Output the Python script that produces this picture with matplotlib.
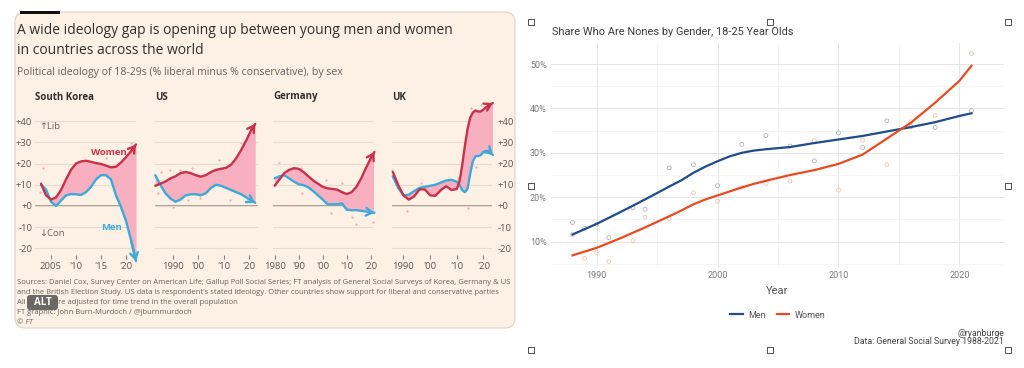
import numpy as np
import matplotlib
matplotlib.use("Agg")
import matplotlib.pyplot as plt
from matplotlib.patches import FancyBboxPatch, Rectangle
from matplotlib.transforms import IdentityTransform
from matplotlib.lines import Line2D

W, H = 1024, 368

# ---------------- FT chart: % liberal minus % conservative, 18-29s ----------------
kr_years = [2003, 2004, 2005, 2006, 2007, 2008, 2009, 2010, 2011, 2012, 2013,
            2014, 2015, 2016, 2017, 2018, 2019, 2020, 2021, 2022]
kr_women = [10.5, 5, 3, 4, 7.5, 12.5, 17, 20, 21, 21.3, 20.8,
            20.2, 19.8, 19, 18.2, 18.5, 20.5, 23, 25.8, 29]
kr_men = [10, 7.8, 2, 0, 2.5, 5, 5.6, 5.5, 5.2, 6.5, 9,
          12.5, 14.5, 14.5, 12.5, 5, -0.5, -7, -16, -26]

us_years = [1983, 1985, 1987, 1989, 1991, 1993, 1995, 1997, 1999, 2001, 2003,
            2005, 2007, 2009, 2011, 2013, 2015, 2017, 2019, 2021, 2022.5]
us_women = [9.5, 10.5, 11.5, 13, 14, 15.5, 16, 15.5, 14.5, 13.8, 14.5,
            16, 17, 17.5, 18, 19.5, 22.5, 26.5, 31, 36, 38.7]
us_men = [14.5, 10, 6, 3.5, 2, 3, 5, 5.5, 5.5, 5, 6,
          8.5, 10, 9.5, 8.5, 7.5, 6.5, 5.5, 4, 2.5, 1.5]

de_years = [1980, 1982, 1984, 1986, 1988, 1990, 1992, 1994, 1996, 1998, 2000,
            2002, 2004, 2006, 2008, 2010, 2012, 2014, 2016, 2018, 2020, 2021.5]
de_women = [9.5, 12.5, 15.5, 17, 17.8, 17.5, 16, 14, 12, 10.5, 9,
            8.3, 8, 7.7, 6.5, 5.6, 6.5, 9, 13, 18, 22.5, 25.5]
de_men = [13, 14, 14.5, 13, 11.5, 10.2, 9.8, 8.8, 7, 5, 3,
          0.8, 0.8, 0.8, 1.2, -1.8, -2, -2, -2.3, -2.6, -3, -3.2]

uk_years = [1986, 1988, 1990, 1992, 1994, 1996, 1998, 2000, 2002, 2004, 2006, 2008,
            2010, 2011, 2012, 2013, 2014, 2015, 2016, 2017, 2018, 2019, 2020, 2021, 2022, 2023.5]
uk_women = [16, 10, 5, 3, 4.5, 7.8, 7.8, 5, 4.8, 7.5, 9.3, 7.5,
            8, 11.5, 19, 28, 36, 41.5, 44, 45, 44.5, 44.5, 45.5, 46.5, 47.5, 48.5]
uk_men = [14, 8.5, 5, 5.3, 7, 8.5, 9, 9.5, 10, 11, 12, 12.3,
          11.5, 10, 7.5, 6.5, 8, 15, 21, 23.5, 23.5, 24, 25.5, 26, 25.8, 24]

# faint survey dots (year, value)
kr_dots = [(2002.8, 6.7), (2003.4, 17.7), (2007.5, 9.1), (2010, 16.2), (2013.7, 18.5),
           (2015.9, 22.5), (2017.9, 13.8), (2021, 29.6)]
us_dots = [(1985.4, 16.2), (1984.1, 6), (1988.7, 17), (1992.9, 17), (1997.5, 17.8),
           (2004, 11.5), (2008, 21.7), (2011.1, 15.4), (2013.7, 20.1), (2017, 29.6),
           (2018.3, 24.9), (1990, -0.3), (1996, 2.8), (2000.5, 3.6), (2012.4, 2.8), (2020.3, 2)]
de_dots = [(1981.8, 20.1), (1991.1, 17.8), (2001.5, 12.3), (2007.8, 10.7), (2014, 4.4),
           (2017.5, 4.4), (1991.5, 6), (2003.6, -3.5), (2012, -5), (2013.8, -8.5), (2021, -7.4)]
uk_dots = [(1985.6, 17), (1991.3, -2.2), (1996.7, 11), (2019, 47.6), (2015.3, 46),
           (2017.2, 39), (2014.3, -1.1), (2017.2, 18.2), (2010.3, 13)]

y_levels = [40, 30, 20, 10, 0, -10, -20]
y_labels = ['+40', '+30', '+20', '+10', '+0', '-10', '-20']

panels = [
    ("South Korea", kr_years, kr_women, kr_men, kr_dots, (35, 136), (2001.8, 2022.0),
     [2005, 2010, 2015, 2020], ['2005', "'10", "'15", "'20"]),
    ("US", us_years, us_women, us_men, us_dots, (155, 258), (1982.9, 2023.6),
     [1990, 2000, 2010, 2020], ['1990', "'00", "'10", "'20"]),
    ("Germany", de_years, de_women, de_men, de_dots, (273, 373), (1979.3, 2020.9),
     [1980, 1990, 2000, 2010, 2020], ['1980', "'90", "'00", "'10", "'20"]),
    ("UK", uk_years, uk_women, uk_men, uk_dots, (392, 492), (1985.7, 2023.2),
     [1990, 2000, 2010, 2020], ['1990', "'00", "'10", "'20"]),
]

# ---------------- GSS chart: share who are nones, 18-25 ----------------
gss_years = [1988, 1989, 1990, 1991, 1993, 1994, 1996, 1998, 2000, 2002, 2004,
             2006, 2008, 2010, 2012, 2014, 2016, 2018, 2021]
gss_men_pts = [14.3, 13.0, 13.9, 10.9, 17.6, 17.3, 26.6, 27.3, 22.6, 31.9, 33.9,
               31.5, 28.2, 34.5, 31.2, 37.2, 35.9, 35.7, 39.5]
gss_women_pts = [11.6, 6.2, 7.5, 5.5, 10.2, 15.5, 15.2, 21.0, 19.1, 22.2, 23.1,
                 23.6, 32.7, 21.6, 32.8, 27.3, 37.0, 38.4, 52.4]
fit_years = [1988, 1990, 1992, 1994, 1996, 1997, 1998, 1999, 2000, 2001, 2002,
             2003, 2004, 2006, 2008, 2010, 2012, 2014, 2016, 2018, 2020, 2021]
fit_men = [11.6, 14.0, 16.7, 19.5, 22.4, 23.8, 25.5, 26.9, 28.1, 29.2, 30.0,
           30.5, 30.8, 31.3, 32.2, 33.0, 33.8, 34.8, 35.8, 36.9, 38.3, 38.9]
fit_women = [6.9, 8.6, 10.8, 13.2, 15.7, 17.0, 18.4, 19.5, 20.4, 21.3, 22.2,
             23.0, 23.7, 25.0, 26.1, 27.5, 29.6, 33.2, 36.8, 41.3, 46.2, 49.6]

# ---------------- styling ----------------
FT_BG = '#FDF0E4'
RED = '#C9304A'
BLUE = '#3DA9D9'
PINK = '#F8AFC0'
FT_FONT = ['Open Sans', 'DejaVu Sans']
NARROW = ['Roboto', 'DejaVu Sans']
NAVY = '#214C8A'
ORANGE = '#E84B1E'

fig = plt.figure(figsize=(W / 100, H / 100), dpi=100)
fig.patch.set_facecolor('white')


def px_box(x0, y0, x1, y1):
    return [x0 / W, 1 - y1 / H, (x1 - x0) / W, (y1 - y0) / H]


def ftext(x, y, s, **kw):
    kw.setdefault('va', 'center')
    kw.setdefault('family', FT_FONT)
    fig.text(x / W, 1 - y / H, s, **kw)


# FT card background
card = FancyBboxPatch((15, H - 328), 500, 316, boxstyle="round,pad=0,rounding_size=10",
                      transform=IdentityTransform(), fc=FT_BG, ec='#DDD3C9', lw=0.8, zorder=-2)
fig.add_artist(card)
fig.add_artist(Rectangle((20, H - 14), 40, 3, transform=IdentityTransform(),
                         fc='#111111', ec='none', zorder=-1))

ftext(17, 31, "A wide ideology gap is opening up between young men and women",
      fontsize=10, color='#33302E')
ftext(17, 50, "in countries across the world", fontsize=10, color='#33302E')
ftext(17, 73, "Political ideology of 18-29s (% liberal minus % conservative), by sex",
      fontsize=7.6, color='#6B625B')

for i, (name, yrs, women, men, dots, (px0, px1), xlim, xt, xtl) in enumerate(panels):
    ax = fig.add_axes(px_box(px0, 102, px1, 259))
    ax.set_facecolor('none')
    for s in ax.spines.values():
        s.set_visible(False)
    ax.set_xlim(*xlim)
    ax.set_ylim(-25, 49)
    ax.set_yticks(y_levels)
    ax.grid(axis='y', color='#E8DCD0', lw=0.8, zorder=0)
    ax.axhline(0, color='#A1958B', lw=1.3, zorder=1)
    if i == 0:
        ax.set_yticklabels(y_labels, family=FT_FONT)
        ax.tick_params(axis='y', length=0, pad=2, labelsize=6.8, labelcolor='#5F5650')
    elif i == 3:
        ax.yaxis.tick_right()
        ax.set_yticklabels(y_labels, family=FT_FONT)
        ax.tick_params(axis='y', length=0, pad=4, labelsize=6.8, labelcolor='#5F5650')
    else:
        ax.tick_params(axis='y', length=0, labelleft=False)
    ax.set_xticks(xt)
    ax.set_xticklabels(xtl, family=FT_FONT)
    ax.tick_params(axis='x', direction='in', length=3, width=0.8, color='#8C8079',
                   pad=2, labelsize=6.8, labelcolor='#5F5650')

    dx, dy = zip(*dots)
    ax.scatter(dx, dy, s=2.5, color='#E9A7B3', zorder=1.2, lw=0, clip_on=False)
    ax.fill_between(yrs, women, men, color=PINK, lw=0, zorder=2)
    ax.plot(yrs, men, color=BLUE, lw=1.7, zorder=3, solid_capstyle='round', clip_on=False)
    ax.plot(yrs, women, color=RED, lw=1.7, zorder=4, solid_capstyle='round', clip_on=False)
    for series, col in ((men, BLUE), (women, RED)):
        ax.annotate('', xy=(yrs[-1], series[-1]), xytext=(yrs[-2], series[-2]),
                    arrowprops=dict(arrowstyle='->,head_length=0.45,head_width=0.28',
                                    color=col, lw=1.7, shrinkA=0, shrinkB=0),
                    annotation_clip=False, zorder=5)
    ftext(px0 if i else 35, 97, name, fontsize=7, weight='bold', color='#33302E')

ftext(39, 127, "↑Lib", fontsize=6.8, color='#6B625B')
ftext(39, 233, "↓Con", fontsize=6.8, color='#6B625B')
ftext(109, 152, "Women", fontsize=6.8, weight='bold', color=RED, ha='center')
ftext(112, 228, "Men", fontsize=6.8, weight='bold', color=BLUE, ha='center')

sources = [
    "Sources: Daniel Cox, Survey Center on American Life; Gallup Poll Social Series; FT analysis of General Social Surveys of Korea, Germany & US",
    "and the British Election Study. US data is respondent's stated ideology. Other countries show support for liberal and conservative parties",
    "All figures are adjusted for time trend in the overall population",
    "FT graphic: John Burn-Murdoch / @jburnmurdoch",
    "\u00a9 FT",
]
for k, line in enumerate(sources):
    ftext(17, 283 + 10 * k, line, fontsize=5.5, color='#6E6259',
          style='italic' if k == 4 else 'normal')

# ALT badge
fig.add_artist(FancyBboxPatch((27, H - 310), 31, 15, boxstyle="round,pad=0,rounding_size=3",
                              transform=IdentityTransform(), fc='#5A5A5A', ec='none',
                              alpha=0.9, zorder=3))
ftext(42.5, 302.5, "ALT", fontsize=7, weight='bold', color='white', ha='center', zorder=4)

# ---------------- GSS chart ----------------
ax2 = fig.add_axes(px_box(551, 43, 1004, 267))
ax2.set_facecolor('none')
for s in ax2.spines.values():
    s.set_visible(False)
ax2.set_xlim(1986.22, 2023.69)
ax2.set_ylim(4.28, 54.73)
ax2.set_xticks([1990, 2000, 2010, 2020])
ax2.set_xticks([1995, 2005, 2015], minor=True)
ax2.set_yticks([10, 20, 30, 40, 50])
ax2.set_yticklabels(['10%', '20%', '30%', '40%', '50%'], family=NARROW)
ax2.set_xticklabels(['1990', '2000', '2010', '2020'], family=NARROW)
ax2.set_yticks([5, 15, 25, 35, 45], minor=True)
ax2.grid(which='major', color='#E6E6E6', lw=0.7)
ax2.grid(which='minor', color='#F2F2F2', lw=0.5)
ax2.tick_params(which='both', length=0)
ax2.tick_params(axis='both', labelsize=6.5, labelcolor='#7A7A7A', pad=3)
ax2.set_xlabel('Year', family=NARROW, fontsize=8, color='#555555', labelpad=4)

ax2.scatter(gss_years, gss_men_pts, s=8, facecolor='none', edgecolor='#A9AEB9', lw=0.55, zorder=2)
ax2.scatter(gss_years, gss_women_pts, s=8, facecolor='none', edgecolor='#EEC2AA', lw=0.55, zorder=2)
ax2.plot(fit_years, fit_men, color=NAVY, lw=1.6, zorder=3)
ax2.plot(fit_years, fit_women, color=ORANGE, lw=1.6, zorder=3)

handles = [Line2D([], [], color=NAVY, lw=1.6), Line2D([], [], color=ORANGE, lw=1.6)]
fig.legend(handles, ['Men', 'Women'], loc='center', bbox_to_anchor=(778 / W, 1 - 315 / H),
           ncol=2, frameon=False, handlelength=1.4, columnspacing=1.2, handletextpad=0.6,
           prop={'family': NARROW, 'size': 6.5}, labelcolor='#555555')

ftext(552, 32, "Share Who Are Nones by Gender, 18-25 Year Olds", fontsize=7.9,
      color='#3C3C3C', family=NARROW)
ftext(1004, 333, "@ryanburge", fontsize=6.3, color='#444444', ha='right', family=NARROW)
ftext(1004, 342, "Data: General Social Survey 1988-2021", fontsize=6.3, color='#444444',
      ha='right', family=NARROW)

# selection handles around the right image
for hx, hy in [(531, 22), (770, 22), (1008, 22), (531, 186), (1008, 186),
               (531, 350), (770, 350), (1008, 350)]:
    fig.add_artist(Rectangle((hx - 3, H - hy - 3), 6, 6, transform=IdentityTransform(),
                             fc='white', ec='#333333', lw=0.6, zorder=6))

fig.savefig('out.png', dpi=100)
